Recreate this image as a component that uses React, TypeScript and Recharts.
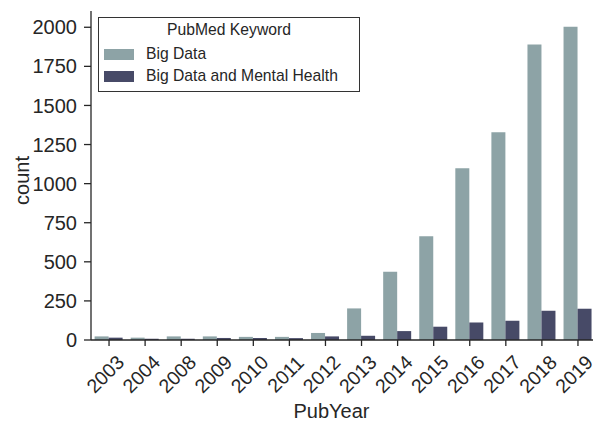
import React from 'react';
import { BarChart, Bar, XAxis, YAxis } from 'recharts';

const years = ['2003', '2004', '2008', '2009', '2010', '2011', '2012', '2013', '2014', '2015', '2016', '2017', '2018', '2019'];
const bigData = [23, 15, 23, 23, 20, 20, 45, 202, 436, 664, 1098, 1328, 1889, 2004];
const bigDataMentalHealth = [15, 8, 8, 13, 13, 12, 23, 27, 57, 85, 112, 123, 187, 200];
const yTicks = [0, 250, 500, 750, 1000, 1250, 1500, 1750, 2000];
const seriesNames = ['Big Data', 'Big Data and Mental Health'];

const LIGHT = '#8da3a6';
const DARK = '#474a67';
const INK = '#262626';
const FONT = '"Liberation Sans", Arial, sans-serif';

const data = years.map((year, i) => ({
  year,
  bigData: bigData[i],
  bigDataMH: bigDataMentalHealth[i],
}));

const XTick = (props: any) => {
  const { x, y, payload } = props;
  const cx = x - 4;
  const cy = y + 26;
  return (
    <text
      x={cx}
      y={cy}
      transform={`rotate(-45, ${cx}, ${cy})`}
      textAnchor="middle"
      dominantBaseline="central"
      fontSize={19.5}
      fill={INK}
      fontFamily={FONT}
    >
      {payload.value}
    </text>
  );
};

const CountLabel = (props: any) => {
  const { viewBox } = props;
  const x = 22;
  const y = viewBox.y + viewBox.height / 2 + 5;
  return (
    <text x={x} y={y} transform={`rotate(-90, ${x}, ${y})`} textAnchor="middle" dominantBaseline="central" fontSize={20} fill={INK} fontFamily={FONT}>
      count
    </text>
  );
};

const YearLabel = (props: any) => {
  const { viewBox } = props;
  const x = viewBox.x + viewBox.width / 2 - 12;
  return (
    <text x={x} y={418} textAnchor="middle" fontSize={20} fill={INK} fontFamily={FONT}>
      PubYear
    </text>
  );
};

const LegendBox = () => (
  <div
    style={{
      position: 'absolute',
      left: 98,
      top: 17,
      border: '1px solid #333',
      width: 262,
      height: 75,
      boxSizing: 'border-box',
      background: '#fff',
      fontFamily: FONT,
      color: INK,
      fontSize: 15.7,
      padding: '3px 0 0 5px',
    }}
  >
    <div style={{ textAlign: 'center', marginBottom: 4, paddingRight: 5 }}>PubMed Keyword</div>
    {seriesNames.map((name, i) => (
      <div key={name} style={{ display: 'flex', alignItems: 'center', height: 22 }}>
        <span style={{ width: 30, height: 11, background: i === 0 ? LIGHT : DARK, marginRight: 12 }} />
        <span>{name}</span>
      </div>
    ))}
  </div>
);

export default function App() {
  return (
    <div style={{ position: 'absolute', top: 0, left: 0, width: 593, height: 421, overflow: 'hidden', background: '#fff' }}>
      <BarChart
        width={600}
        height={421}
        data={data}
        margin={{ top: 11, right: 4, left: 0, bottom: 0 }}
        barCategoryGap="10%"
        barGap={0}
      >
        <XAxis
          dataKey="year"
          height={81}
          interval={0}
          tick={<XTick />}
          tickSize={6}
          axisLine={{ stroke: INK, strokeWidth: 1.3 }}
          tickLine={{ stroke: INK, strokeWidth: 1.3 }}
          label={<YearLabel />}
        />
        <XAxis xAxisId="top" orientation="top" dataKey="year" height={0} tick={false} tickLine={false} axisLine={{ stroke: INK, strokeWidth: 1.3 }} />
        <YAxis
          width={91}
          domain={[0, 2104]}
          ticks={yTicks}
          tickSize={7}
          tickMargin={7}
          axisLine={{ stroke: INK, strokeWidth: 1.3 }}
          tickLine={{ stroke: INK, strokeWidth: 1.3 }}
          tick={{ fontSize: 20, fill: INK, fontFamily: FONT }}
          label={<CountLabel />}
        />
        <Bar dataKey="bigData" name={seriesNames[0]} fill={LIGHT} isAnimationActive={false} />
        <Bar dataKey="bigDataMH" name={seriesNames[1]} fill={DARK} isAnimationActive={false} />
      </BarChart>
      <LegendBox />
    </div>
  );
}
